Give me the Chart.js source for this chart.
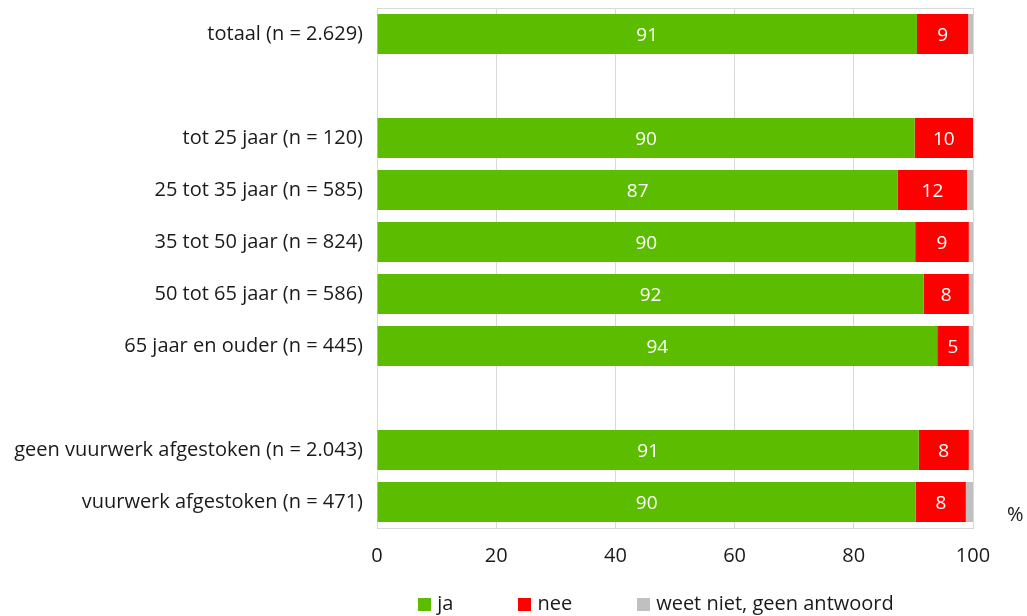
<!DOCTYPE html>
<html>
<head>
<meta charset="utf-8">
<script src="https://cdn.jsdelivr.net/npm/chart.js@4.4.0/dist/chart.umd.min.js"></script>
<style>
  html, body { margin: 0; padding: 0; background: #fff; }
  #wrap { width: 1027px; height: 616px; }
</style>
</head>
<body>
<div id="wrap"><canvas id="c" width="1027" height="616"></canvas></div>
<script>
const categories = [
  'totaal (n = 2.629)',
  '',
  'tot 25 jaar (n = 120)',
  '25 tot 35 jaar (n = 585)',
  '35 tot 50 jaar (n = 824)',
  '50 tot 65 jaar (n = 586)',
  '65 jaar en ouder (n = 445)',
  '',
  'geen vuurwerk afgestoken (n = 2.043)',
  'vuurwerk afgestoken (n = 471)'
];
const seriesNames = ['ja', 'nee', 'weet niet, geen antwoord'];
const jaValues   = [90.6, null, 90.2, 87.4, 90.3, 91.7, 94.0, null, 90.9, 90.4];
const neeValues  = [8.6,  null, 9.8,  11.6, 9.0,  7.6,  5.3,  null, 8.4,  8.4];
const weetValues = [0.8,  null, 0.0,  1.0,  0.7,  0.7,  0.7,  null, 0.7,  1.2];
const xTicks = [0, 20, 40, 60, 80, 100];
const unitLabel = '%';

const FONT = "'Open Sans', sans-serif";
const FS = 20;
const TEXT = '#1a1a1a';
const GRID = '#d9d9d9';

const frameAndExtras = {
  id: 'frameAndExtras',
  beforeDatasetsDraw(chart) {
    const {ctx, chartArea: a} = chart;
    ctx.save();
    ctx.strokeStyle = GRID;
    ctx.lineWidth = 1;
    ctx.strokeRect(Math.round(a.left) + 0.5, Math.round(a.top) + 0.5, Math.round(a.right - a.left), Math.round(a.bottom - a.top));
    ctx.restore();
  },
  afterDatasetsDraw(chart) {
    const {ctx} = chart;
    ctx.save();
    ctx.font = (FS - 1) + 'px ' + FONT;
    ctx.fillStyle = '#ffffff';
    ctx.textAlign = 'center';
    ctx.textBaseline = 'middle';
    [0, 1].forEach(di => {
      const meta = chart.getDatasetMeta(di);
      const vals = chart.data.datasets[di].data;
      meta.data.forEach((bar, i) => {
        const v = vals[i];
        if (v === null || v === undefined || v < 3) return;
        const p = bar.getProps(['x', 'y', 'base'], true);
        ctx.fillText(String(Math.round(v)), (p.x + p.base) / 2, p.y + 2);
      });
    });
    ctx.restore();
  },
  afterDraw(chart) {
    const {ctx, chartArea: a} = chart;
    ctx.save();
    ctx.font = FS + 'px ' + FONT;
    ctx.fillStyle = TEXT;
    ctx.textBaseline = 'middle';
    ctx.textAlign = 'left';
    ctx.fillText(unitLabel, a.right + 34, a.bottom - 13);
    // legend
    const items = chart.data.datasets.map(d => ({ text: d.label, color: d.backgroundColor }));
    const box = 13, gapBoxText = 6, gapItems = 65;
    const widths = items.map(it => box + gapBoxText + ctx.measureText(it.text).width);
    const total = widths.reduce((s, w) => s + w, 0) + gapItems * (items.length - 1);
    let x = 656 - total / 2;
    const yc = 604;
    items.forEach((it, i) => {
      ctx.fillStyle = it.color;
      ctx.fillRect(Math.round(x), yc - 6, box, box);
      ctx.fillStyle = TEXT;
      ctx.fillText(it.text, x + box + gapBoxText, yc);
      x += widths[i] + gapItems;
    });
    ctx.restore();
  }
};

new Chart(document.getElementById('c'), {
  type: 'bar',
  data: {
    labels: categories,
    datasets: [
      { label: seriesNames[0], data: jaValues,   backgroundColor: '#5cbd00', borderWidth: 0 },
      { label: seriesNames[1], data: neeValues,  backgroundColor: '#ff0000', borderWidth: 0 },
      { label: seriesNames[2], data: weetValues, backgroundColor: '#c0c0c0', borderWidth: 0 }
    ]
  },
  options: {
    indexAxis: 'y',
    responsive: false,
    animation: false,
    devicePixelRatio: 1,
    layout: { padding: { top: 8, right: 54, left: 0, bottom: 38 } },
    datasets: { bar: { categoryPercentage: 1, barPercentage: 0.77 } },
    scales: {
      x: {
        stacked: true,
        min: xTicks[0], max: xTicks[xTicks.length - 1],
        afterFit(scale) { scale.height = 50; scale.paddingLeft = 0; scale.paddingRight = 0; },
        grid: { color: GRID, lineWidth: 1, drawTicks: false },
        border: { display: true, color: GRID },
        ticks: { stepSize: xTicks[1] - xTicks[0], padding: 16, color: TEXT, font: { family: FONT, size: FS } }
      },
      y: {
        stacked: true,
        afterFit(scale) { scale.width = 377; scale.paddingTop = 0; scale.paddingBottom = 0; },
        grid: { display: false, drawTicks: false },
        border: { display: true, color: GRID },
        ticks: { padding: 14, color: TEXT, font: { family: FONT, size: FS }, autoSkip: false }
      }
    },
    plugins: {
      legend: { display: false },
      tooltip: { enabled: false }
    }
  },
  plugins: [frameAndExtras]
});
</script>
</body>
</html>
